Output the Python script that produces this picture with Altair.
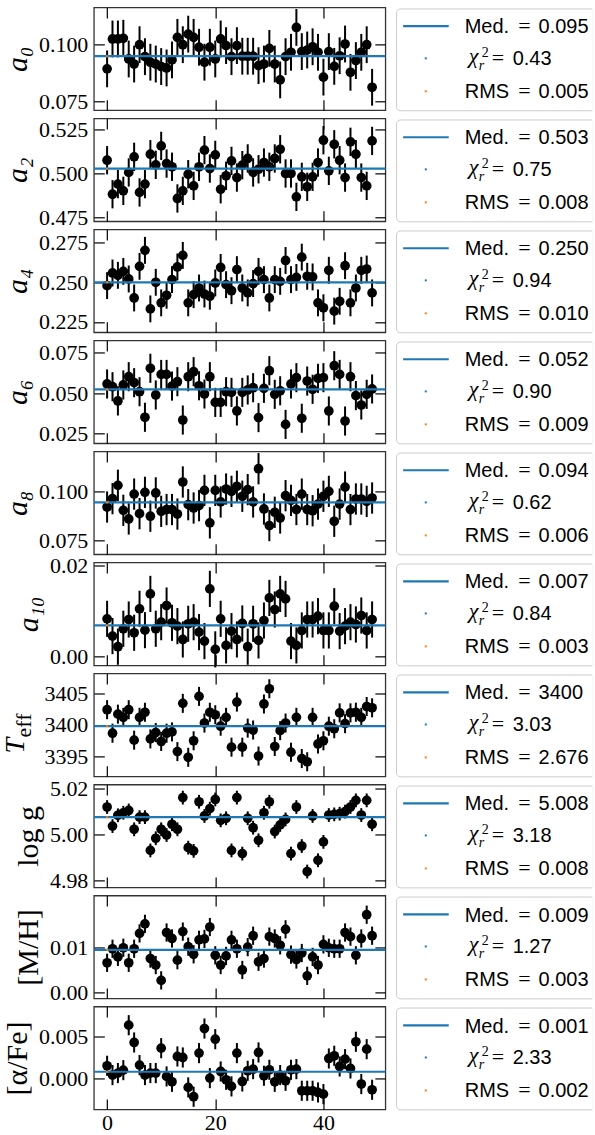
import altair as alt
import pandas as pd

idx = list(range(50))

a0 = [0.0892, 0.1022, 0.1022, 0.1025, 0.0935, 0.0913, 0.0997, 0.0945, 0.0921, 0.0913,
      0.0902, 0.0896, 0.0931, 0.1029, 0.0997, 0.1043, 0.1029, 0.0986, 0.0921, 0.0986,
      0.0935, 0.1022, 0.0993, 0.0945, 0.0993, 0.0947, 0.0947, 0.0947, 0.0906, 0.0913,
      0.0981, 0.0913, 0.0844, 0.0945, 0.0964, 0.1072, 0.0967, 0.0974, 0.0988, 0.0964,
      0.0856, 0.0967, 0.0903, 0.0949, 0.1000, 0.0877, 0.0928, 0.0964, 0.0997, 0.0812]
a2 = [0.5075, 0.4883, 0.4940, 0.4902, 0.5006, 0.5094, 0.4893, 0.4940, 0.5109, 0.5049,
      0.5156, 0.5056, 0.5038, 0.4859, 0.4902, 0.4996, 0.4930, 0.5038, 0.5132, 0.5028,
      0.5105, 0.4911, 0.4987, 0.5071, 0.4977, 0.5047, 0.5085, 0.5006, 0.5024, 0.5062,
      0.5038, 0.5085, 0.5137, 0.5000, 0.5000, 0.4868, 0.4981, 0.4925, 0.4981, 0.5062,
      0.5188, 0.5015, 0.5165, 0.5075, 0.4977, 0.5179, 0.5109, 0.4977, 0.4930, 0.5184]
a4 = [0.2479, 0.2559, 0.2544, 0.2569, 0.2521, 0.2401, 0.2601, 0.2702, 0.2332, 0.2500,
      0.2370, 0.2418, 0.2517, 0.2597, 0.2670, 0.2370, 0.2422, 0.2464, 0.2426, 0.2412,
      0.2496, 0.2594, 0.2485, 0.2447, 0.2580, 0.2464, 0.2433, 0.2492, 0.2569, 0.2517,
      0.2401, 0.2517, 0.2506, 0.2638, 0.2517, 0.2531, 0.2659, 0.2538, 0.2534, 0.2370,
      0.2339, 0.2576, 0.2318, 0.2380, 0.2605, 0.2370, 0.2464, 0.2576, 0.2584, 0.2433]
a6 = [0.0558, 0.0541, 0.0453, 0.0552, 0.0603, 0.0566, 0.0510, 0.0352, 0.0655, 0.0490,
      0.0617, 0.0617, 0.0545, 0.0572, 0.0335, 0.0603, 0.0634, 0.0547, 0.0496, 0.0603,
      0.0444, 0.0444, 0.0510, 0.0506, 0.0391, 0.0506, 0.0521, 0.0535, 0.0350, 0.0531,
      0.0640, 0.0494, 0.0516, 0.0308, 0.0558, 0.0597, 0.0346, 0.0576, 0.0525, 0.0593,
      0.0597, 0.0391, 0.0671, 0.0617, 0.0329, 0.0603, 0.0486, 0.0428, 0.0494, 0.0527]
a8 = [0.0920, 0.0963, 0.1031, 0.0903, 0.0859, 0.0986, 0.0886, 0.0995, 0.0873, 0.0992,
      0.0898, 0.0907, 0.0907, 0.0884, 0.1048, 0.0932, 0.0915, 0.0927, 0.1005, 0.0839,
      0.1005, 0.0946, 0.1012, 0.1000, 0.1026, 0.0975, 0.1009, 0.0946, 0.1116, 0.0910,
      0.0825, 0.0893, 0.0864, 0.0978, 0.0954, 0.0907, 0.0986, 0.0907, 0.0901, 0.0935,
      0.0975, 0.1000, 0.0847, 0.0935, 0.1022, 0.0907, 0.0961, 0.0961, 0.0949, 0.0966]
a10 = [0.00824, 0.00442, 0.00207, 0.00604, 0.00809, 0.00515, 0.01045, 0.00574, 0.01375, 0.00604,
       0.00750, 0.01118, 0.00736, 0.00662, 0.00368, 0.00714, 0.00750, 0.00530, 0.00331, 0.01486,
       0.00148, 0.00824, 0.00236, 0.00552, 0.00368, 0.00721, 0.00207, 0.00714, 0.00346, 0.00787,
       0.01287, 0.01030, 0.01375, 0.01265, 0.00331, 0.00236, 0.00567, 0.00809, 0.00809, 0.00883,
       0.00567, 0.00567, 0.01103, 0.00552, 0.00662, 0.00750, 0.00699, 0.00897, 0.00567, 0.00809]
teff = [3402.4, 3398.7, 3401.7, 3401.2, 3402.4, 3397.6, 3401.2, 3402.0, 3397.8, 3398.8,
        3397.4, 3398.7, 3398.9, 3395.8, 3403.4, 3394.9, 3397.5, 3404.5, 3400.3, 3402.0,
        3401.6, 3399.8, 3401.2, 3396.5, 3403.6, 3396.5, 3399.5, 3399.2, 3395.1, 3403.3,
        3405.7, 3396.6, 3399.1, 3400.3, 3395.7, 3401.2, 3394.7, 3394.2, 3401.2, 3397.0,
        3397.5, 3399.8, 3399.4, 3401.9, 3400.2, 3401.9, 3402.0, 3401.2, 3402.9, 3402.7]
logg = [5.0119, 5.0036, 5.0083, 5.0094, 5.0104, 5.0022, 5.0075, 5.0075, 4.9930, 4.9983,
        5.0022, 4.9997, 5.0044, 5.0022, 5.0160, 4.9942, 4.9928, 5.0142, 5.0080, 5.0112,
        5.0152, 5.0061, 5.0070, 4.9930, 5.0160, 4.9916, 5.0070, 5.0029, 4.9974, 5.0094,
        5.0142, 5.0012, 5.0041, 5.0065, 4.9916, 5.0119, 4.9949, 4.9838, 5.0080, 4.9887,
        4.9967, 5.0084, 5.0087, 5.0090, 5.0099, 5.0119, 5.0148, 5.0084, 5.0148, 5.0044]
mh = [0.00657, 0.00964, 0.00786, 0.00986, 0.00657, 0.00964, 0.0130, 0.0151, 0.00750, 0.00607,
      0.00271, 0.0132, 0.0119, 0.00714, 0.0134, 0.0101, 0.00843, 0.0116, 0.0118, 0.0144,
      0.00821, 0.00607, 0.00807, 0.0116, 0.00964, 0.00500, 0.0100, 0.0125, 0.00679, 0.00750,
      0.0123, 0.0119, 0.0104, 0.0139, 0.00836, 0.00729, 0.00871, 0.00371, 0.00786, 0.00607,
      0.0106, 0.00986, 0.00964, 0.00964, 0.0132, 0.0123, 0.00821, 0.0119, 0.0171, 0.0125]
afe = [0.00151, 0.00040, 0.00064, 0.00099, 0.00635, 0.00429, 0.00159, 0.00040, 0.00064, 0.00064,
       0.00361, 0.00024, -0.00040, 0.00262, 0.00250, -0.00107, -0.00218, 0.00302, 0.00595, 0.00004,
       0.00468, 0.00083, -0.00016, -0.00095, 0.00302, -0.00036, 0.00091, 0.00111, 0.00310, 0.00032,
       0.00103, -0.00040, 0.00040, -0.00028, 0.00103, 0.00111, -0.00147, -0.00147, -0.00147, -0.00167,
       -0.00187, 0.00238, 0.00270, 0.00143, 0.00230, 0.00119, 0.00437, -0.00067, 0.00349, -0.00135]

values = [a0, a2, a4, a6, a8, a10, teff, logg, mh, afe]
errors = [0.008, 0.008, 0.0085, 0.009, 0.008, 0.004, 1.5, 0.003, 0.002, 0.0012]
medians = [0.0947, 0.5028, 0.2500, 0.0524, 0.0944, 0.0068, 3399.8, 5.0075, 0.0094, 0.0008]
med_text = ["0.095", "0.503", "0.250", "0.052", "0.094", "0.007", "3400", "5.008", "0.009", "0.001"]
chi_text = ["0.43", "0.75", "0.94", "0.90", "0.62", "0.84", "3.03", "3.18", "1.27", "2.33"]
rms_text = ["0.005", "0.008", "0.010", "0.009", "0.006", "0.003", "2.676", "0.008", "0.003", "0.002"]
y_ticks = [[0.075, 0.100], [0.475, 0.500, 0.525], [0.225, 0.250, 0.275], [0.025, 0.050, 0.075],
           [0.075, 0.100], [0.00, 0.02], [3395, 3400, 3405], [4.98, 5.00, 5.02], [0.00, 0.01],
           [0.000, 0.005]]
y_titles = ["a₀", "a₂", "a₄", "a₆", "a₈", "a₁₀", "", "log g", "[M/H]", "[α/Fe]"]
x_ticks = [0, 20, 40]

# scale / layout settings
y_fmt = [".3f", ".3f", ".3f", ".3f", ".3f", ".2f", "d", ".2f", ".2f", ".3f"]
y_dom = [[0.0712, 0.1159], [0.4730, 0.5311], [0.2184, 0.2834], [0.0191, 0.0827],
         [0.0678, 0.1204], [-0.00205, 0.0207], [3391.9, 3408.1], [4.9769, 5.0217],
         [-0.00123, 0.0213], [-0.00369, 0.00857]]
y_italic = [True, True, True, True, True, True, False, False, False, False]

W, H = 292, 103
SERIF = "Liberation Serif"
SANS = "Liberation Sans"
BLUE = "#1f77b4"
ORANGE = "#ff7f0e"
TL = 10.5

one = pd.DataFrame({"d": [0]})


def make_panel(k):
    last = k == 9
    df = pd.DataFrame({"x": idx, "v": values[k]})
    df["lo"] = df["v"] - errors[k]
    df["hi"] = df["v"] + errors[k]
    xs = alt.Scale(domain=[-2.45, 51.45], nice=False, zero=False)
    ys = alt.Scale(domain=y_dom[k], nice=False, zero=False)

    yl = alt.Axis(orient="left", values=y_ticks[k], format=y_fmt[k], offset=-TL,
                  labelPadding=6, titlePadding=6, labelFont=SERIF, labelFontSize=22,
                  titleFont=SERIF, titleFontSize=30,
                  titleFontStyle="italic" if y_italic[k] else "normal")
    yr = alt.Axis(orient="right", values=y_ticks[k], labels=False, offset=-TL,
                  minExtent=0, maxExtent=0)
    if last:
        xb = alt.Axis(orient="bottom", values=x_ticks, labels=True, format="d", offset=-TL,
                      labelPadding=3, labelFont=SERIF, labelFontSize=22)
    else:
        xb = alt.Axis(orient="bottom", values=x_ticks, labels=False, offset=-TL,
                      minExtent=0, maxExtent=0)
    xt = alt.Axis(orient="top", values=x_ticks, labels=False, offset=-TL,
                  minExtent=0, maxExtent=0)

    ytitle = y_titles[k] if y_titles[k] else None

    base = alt.Chart(df)
    err = base.mark_rule(color="black", strokeWidth=2).encode(
        x=alt.X("x:Q", scale=xs, axis=xb, title=None),
        y=alt.Y("lo:Q", scale=ys, axis=yl, title=ytitle),
        y2="hi:Q")
    pts = base.mark_circle(color="black", size=95, opacity=1).encode(
        x=alt.X("x:Q", scale=xs, axis=xt, title=None),
        y=alt.Y("v:Q", scale=ys, axis=yr, title=None))
    mdf = pd.DataFrame({"m": [medians[k]], "x0": [0]})
    med = alt.Chart(mdf).mark_rule(color=BLUE, strokeWidth=2.2).encode(
        y=alt.Y("m:Q", scale=ys, axis=None))
    odot = alt.Chart(mdf).mark_square(color=ORANGE, size=4, opacity=1).encode(
        x=alt.X("x0:Q", scale=xs, axis=None), y=alt.Y("m:Q", scale=ys, axis=None))

    c = alt.Chart(one)
    box = c.mark_rect(fill="white", stroke="#cccccc", strokeWidth=1,
                      cornerRadiusTopLeft=4, cornerRadiusBottomLeft=4).encode(
        x=alt.value(303.2), x2=alt.value(500), y=alt.value(1.5), y2=alt.value(103.5))
    cover = c.mark_rule(color="white", strokeWidth=1.5).encode(
        x=alt.value(500), y=alt.value(0.5), y2=alt.value(104.5))
    lsample = c.mark_rule(color=BLUE, strokeWidth=2.2).encode(
        x=alt.value(309.8), x2=alt.value(355.5), y=alt.value(18.8))
    bdot = c.mark_square(color=BLUE, size=4, opacity=1).encode(
        x=alt.value(332.5), y=alt.value(51))
    odot2 = c.mark_square(color=ORANGE, size=4, opacity=1).encode(
        x=alt.value(332.5), y=alt.value(84))
    pin = c.mark_rule(strokeWidth=1, opacity=0).encode(
        x=alt.value(-93), y=alt.value(40), y2=alt.value(60))

    def txt(s, x, y, font=SANS, size=20, style="normal"):
        return c.mark_text(text=s, font=font, fontSize=size, fontStyle=style, align="left",
                           baseline="alphabetic", color="black").encode(
            x=alt.value(x), y=alt.value(y))

    leg = [
        txt("Med.", 371.5, 26),
        txt("=", 425, 26, font=SERIF, size=22),
        txt(med_text[k], 445.5, 26),
        txt("χ", 375.5, 56, font=SERIF, size=22, style="italic"),
        txt("2", 388.5, 50, font=SERIF, size=14),
        txt("r", 385.5, 63, font=SERIF, size=14, style="italic"),
        txt("=", 398.5, 58, font=SERIF, size=22),
        txt(chi_text[k], 419.5, 58),
        txt("RMS", 371.5, 91),
        txt("=", 425, 91, font=SERIF, size=22),
        txt(rms_text[k], 445.5, 91),
    ]

    layers = [err, pts, med, odot, box, cover, lsample, bdot, odot2, pin] + leg
    if k == 6:
        tmain = c.mark_text(text="T", font=SERIF, fontSize=28, fontStyle="italic", angle=270,
                            align="left", baseline="alphabetic", color="black").encode(
            x=alt.value(-70), y=alt.value(80))
        tsub = c.mark_text(text="eff", font=SERIF, fontSize=22, angle=270,
                           align="left", baseline="alphabetic", color="black").encode(
            x=alt.value(-63), y=alt.value(64))
        layers += [tmain, tsub]

    return alt.layer(*layers).resolve_axis(x="independent", y="independent").properties(
        width=W, height=H)


panels = [make_panel(k) for k in range(10)]
chart = alt.vconcat(*panels, spacing=8.2, bounds="flush").properties(
    padding={"left": 0, "top": 4.5, "right": 0, "bottom": 0},
    background="white",
).configure_view(
    stroke="#333333", strokeWidth=1.3
).configure_axis(
    tickSize=TL, tickColor="black", tickWidth=1.2, domain=False, grid=False,
    labelFont=SERIF, labelFontSize=22, labelColor="black", labelFlush=False,
    labelOverlap=False, labelBound=False,
    titleFont=SERIF, titleFontSize=30, titleFontWeight="normal", titleColor="black"
)

chart.save("out.html", embed_options={"renderer": "svg", "actions": False})
